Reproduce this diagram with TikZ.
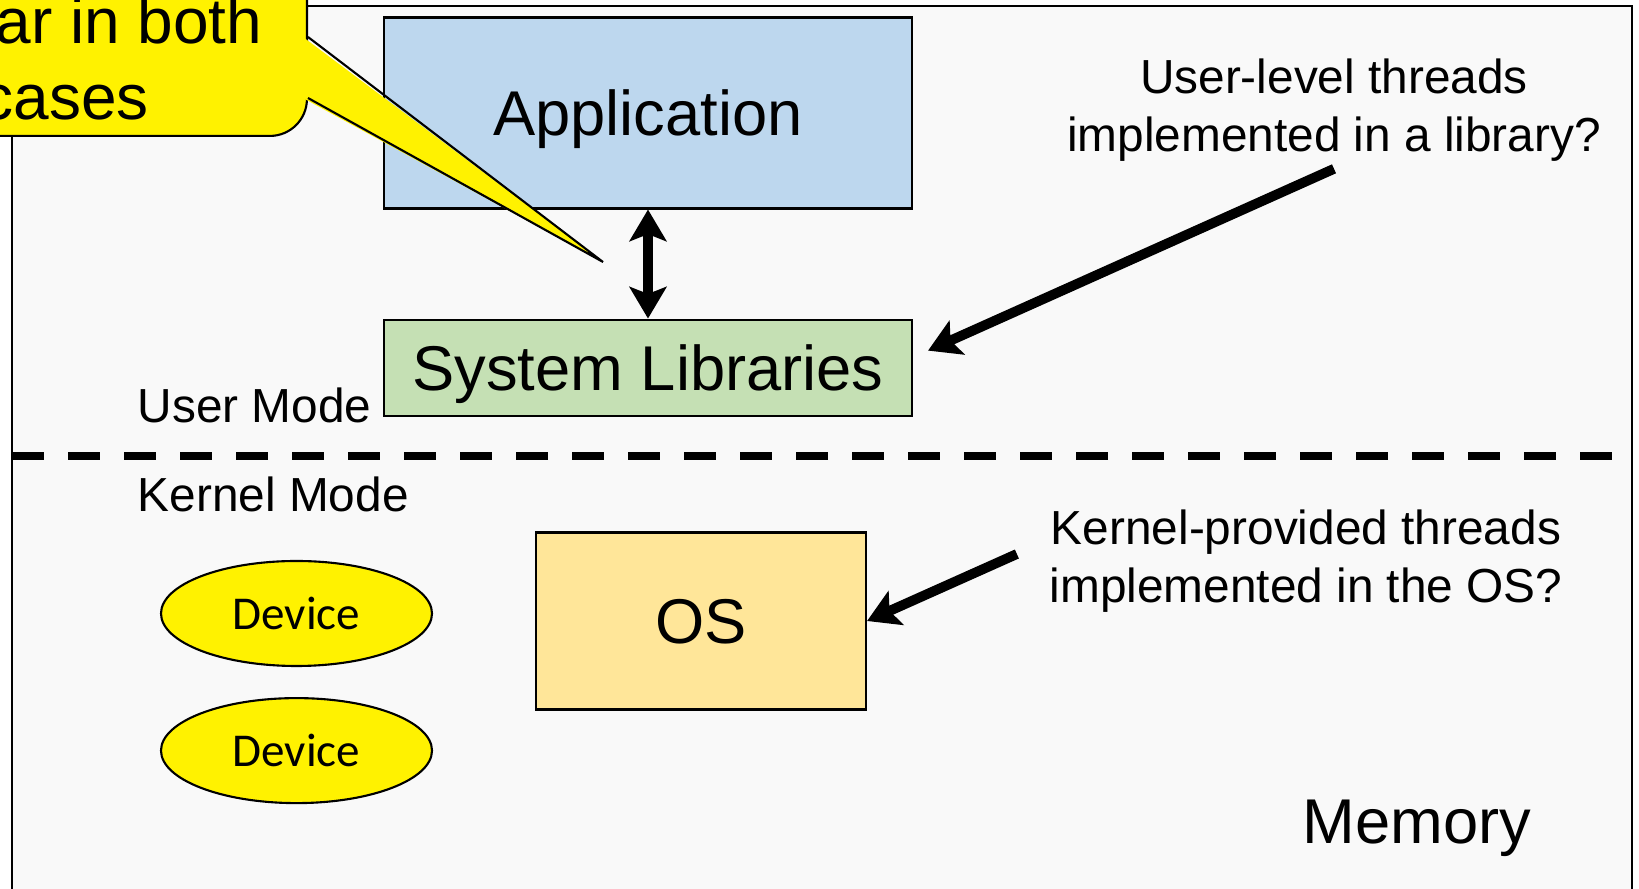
\documentclass[tikz,border=0pt]{standalone}
\usepackage{fontspec}
\setmainfont{Liberation Sans}
\newfontfamily\devfont{Carlito}
\usetikzlibrary{positioning,arrows.meta,shapes.geometric,calc}
\definecolor{PaleBlue}{HTML}{BDD7EE}
\definecolor{PaleGreen}{HTML}{C5E0B4}
\definecolor{PaleGold}{HTML}{FFE699}
\definecolor{MemGray}{HTML}{F9F9F9}

\begin{document}
\begin{tikzpicture}[
  layer/.style   = {draw, line width=0.6pt, inner sep=0pt, text depth=0pt,
                    font=\fontsize{18}{21.6}\selectfont},
  device/.style  = {ellipse, draw, fill=yellow, line width=0.6pt,
                    minimum width=2.71cm, minimum height=1.05cm, inner sep=0pt,
                    font=\devfont\fontsize{13.4}{16}\selectfont},
  modetxt/.style = {anchor=base west, inner sep=0pt,
                    font=\fontsize{13.6}{16.4}\selectfont},
  question/.style= {align=center, inner sep=2pt,
                    font=\fontsize{13.6}{16.4}\selectfont},
  callout/.style = {draw, fill=yellow, line width=0.6pt, rounded corners=0.37cm},
  arr/.style     = {->, line width=2.8pt},
  >={Stealth[length=9pt, width=10.5pt, inset=2pt]}
]
  \useasboundingbox (0,0) rectangle (16.39,8.89);

  % memory frame and the user / kernel split
  \draw[fill=MemGray, line width=0.6pt] (0.12,-0.5) rectangle (16.32,8.83);
  \draw[line width=2.3pt, dash pattern=on 0.32cm off 0.24cm] (0.12,4.33) -- (16.14,4.33);

  \node[modetxt] (user) at (1.37,4.66) {User Mode};
  \node[modetxt] (kern) at (1.37,3.77) {Kernel Mode};
  \node[modetxt, font=\fontsize{18}{21.6}\selectfont] (mem) at (13.02,0.45) {Memory};

  \node[layer, fill=PaleBlue, minimum width=5.28cm, minimum height=1.91cm] (app) at (6.48,7.76) {Application};
  \node[layer, fill=PaleGreen, minimum width=5.28cm, minimum height=0.96cm, below=1.09cm of app] (lib) {System Libraries};
  \node[layer, fill=PaleGold, minimum width=3.30cm, minimum height=1.77cm] (os) at (7.01,2.68) {OS};

  \node[device] (dev1) at (2.965,2.755) {Device};
  \node[device, below=0.3cm of dev1] (dev2) {Device};

  \draw[arr, <->] (app.south) -- (lib.north);

  \node[question] (ult) at (13.34,7.79) {User-level threads\\implemented in a library?};
  \node[question] (kpt) at (13.06,3.28) {Kernel-provided threads\\implemented in the OS?};

  \draw[arr] (ult.south) -- ($(lib.east)+(0.15,0.17)$);
  \draw[arr] ([shift={(-0.25,0.07)}]kpt.west) -- (os.east);

  % callout, cut off by the page edge
  \node[callout, anchor=south east, minimum width=4cm, minimum height=2.5cm] (note) at (3.08,7.52) {};
  \coordinate (tip) at (6.03,6.27);
  \fill[yellow] ([shift={(-0.05,1.0)}]note.south east) -- (tip) -- ([shift={(-0.05,0.39)}]note.south east) -- cycle;
  \draw[line width=0.6pt] ([yshift=1.0cm]note.south east) -- (tip) -- ([yshift=0.39cm]note.south east);
  \node[anchor=base west, align=left, inner sep=0pt, font=\fontsize{18.2}{21.9}\selectfont] (notetxt) at (-0.05,7.69) {ar in both\\\hspace*{-0.14cm}cases};
\end{tikzpicture}
\end{document}
